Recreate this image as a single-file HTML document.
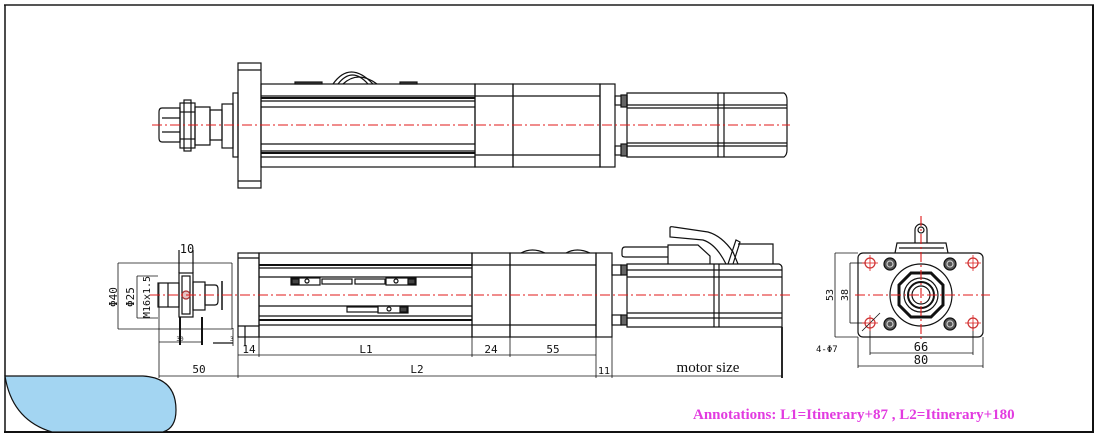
<!DOCTYPE html>
<html><head><meta charset="utf-8"><style>
html,body{margin:0;padding:0;background:#fff;}
svg{display:block;}
text{font-family:"DejaVu Sans Mono","Liberation Mono",monospace;fill:#111;}
</style></head><body>
<svg width="1100" height="437" viewBox="0 0 1100 437" xmlns="http://www.w3.org/2000/svg">
<g fill="none" stroke="#111" stroke-width="1.2">
<!-- frame -->
<line x1="4" y1="5" x2="1094" y2="5" stroke="#555" stroke-width="2"/>
<line x1="1093" y1="5" x2="1093" y2="433" stroke-width="2"/>
<line x1="4" y1="432" x2="1094" y2="432" stroke-width="2"/>
<line x1="5" y1="5" x2="5" y2="433" stroke-width="1.5"/>
<path d="M5,376 L143,376 Q176,378 176,410 Q176,428 163,432 L52,432 Q12,420 5,376 Z" fill="#a3d5f2" stroke="#111" stroke-width="1.2"/>

<!-- ===== TOP VIEW ===== -->
<rect x="238" y="63" width="23" height="125"/>
<line x1="238" y1="70" x2="261" y2="70"/><line x1="238" y1="181" x2="261" y2="181"/>
<rect x="233" y="93" width="5" height="64"/>
<rect x="261" y="84" width="214" height="83"/>
<line x1="261" y1="96" x2="475" y2="96"/><line x1="261" y1="98" x2="475" y2="98" stroke-width="2"/>
<line x1="261" y1="101" x2="475" y2="101"/><line x1="261" y1="107" x2="475" y2="107"/>
<line x1="261" y1="144" x2="475" y2="144"/><line x1="261" y1="151" x2="475" y2="151"/>
<line x1="261" y1="153" x2="475" y2="153" stroke-width="2"/><line x1="261" y1="157" x2="475" y2="157"/>
<rect x="475" y="84" width="38" height="83"/>
<rect x="513" y="84" width="87" height="83"/>
<line x1="475" y1="96" x2="600" y2="96"/><line x1="475" y1="155" x2="600" y2="155"/>
<rect x="600" y="84" width="15" height="83"/>
<rect x="615" y="96" width="12" height="9"/><rect x="615" y="146" width="12" height="9"/>
<rect x="621" y="95" width="6" height="12" fill="#666"/><rect x="621" y="144" width="6" height="12" fill="#666"/>
<path d="M627,93 L784,93 Q787,95 787,100 L787,150 Q787,155 784,157 L627,157 Z"/>
<line x1="627" y1="105" x2="787" y2="105"/><line x1="627" y1="108" x2="787" y2="108"/>
<line x1="627" y1="143" x2="787" y2="143"/><line x1="627" y1="146" x2="787" y2="146"/>
<line x1="718" y1="93" x2="718" y2="157"/><line x1="724" y1="93" x2="724" y2="157"/>
<path d="M333,84 Q350,60 373,84"/><path d="M338,84 Q352,66 368,84"/><path d="M343,84 Q358,70 377,84"/>
<rect x="295" y="82" width="27" height="2" fill="#444"/><rect x="400" y="82" width="17" height="2" fill="#444"/>
<!-- rod end top -->
<rect x="222" y="104" width="11" height="44"/>
<path d="M210,110 L222,110 L222,140 L210,140 Z"/>
<path d="M195,107 L210,107 L210,145 L195,145 Z"/>
<rect x="180" y="103" width="15" height="45"/>
<line x1="180" y1="112" x2="195" y2="112"/><line x1="180" y1="139" x2="195" y2="139"/>
<rect x="184" y="100" width="7" height="51"/>
<path d="M162,108 L180,108 L180,142 L162,142 Q159,142 159,138 L159,112 Q159,108 162,108 Z"/>
<line x1="162" y1="118" x2="180" y2="118"/><line x1="162" y1="132" x2="180" y2="132"/>

<!-- ===== SIDE VIEW ===== -->
<rect x="238" y="253" width="21" height="84"/>
<line x1="238" y1="258" x2="259" y2="258"/><line x1="238" y1="326" x2="259" y2="326"/>
<rect x="259" y="253" width="213" height="84"/>
<line x1="259" y1="265" x2="472" y2="265" stroke-width="2"/><line x1="259" y1="268" x2="472" y2="268"/>
<line x1="259" y1="277" x2="472" y2="277"/><line x1="259" y1="306" x2="472" y2="306"/>
<line x1="259" y1="316" x2="472" y2="316"/><line x1="259" y1="320" x2="472" y2="320" stroke-width="2"/>
<line x1="259" y1="325" x2="472" y2="325"/>
<rect x="291" y="278" width="29" height="7"/><rect x="292" y="279" width="7" height="5" fill="#444"/>
<rect x="322" y="279" width="30" height="5"/><rect x="355" y="279" width="30" height="5"/>
<rect x="386" y="278" width="30" height="7"/><rect x="408" y="279" width="7" height="5" fill="#444"/>
<circle cx="307" cy="281" r="2"/><circle cx="396" cy="281" r="2"/>
<rect x="347" y="307" width="31" height="5"/>
<rect x="378" y="306" width="30" height="7"/><rect x="400" y="307" width="7" height="5" fill="#444"/>
<circle cx="389" cy="309" r="2"/>
<rect x="472" y="253" width="38" height="84"/>
<rect x="510" y="253" width="86" height="84"/>
<line x1="472" y1="265" x2="596" y2="265"/><line x1="472" y1="325" x2="596" y2="325"/>
<path d="M521,253 Q532,247 545,253"/><path d="M566,253 Q577,247 590,253"/>
<rect x="596" y="253" width="16" height="84"/>
<rect x="612" y="265" width="9" height="10"/><rect x="612" y="315" width="9" height="10"/>
<rect x="621" y="265" width="6" height="10" fill="#666"/><rect x="621" y="315" width="6" height="10" fill="#666"/>
<path d="M627,264 L779,264 Q782,265 782,268 L782,327 L627,327 Z"/>
<line x1="627" y1="270" x2="782" y2="270"/><line x1="627" y1="277" x2="782" y2="277"/>
<line x1="627" y1="313" x2="782" y2="313"/><line x1="627" y1="318" x2="782" y2="318"/>
<line x1="714" y1="264" x2="714" y2="327"/><line x1="719" y1="264" x2="719" y2="327"/>
<path d="M668,264 L668,245 L698,245 L710,256 L710,264"/>
<path d="M668,247 L625,247 Q622,247 622,251 L622,255 Q622,257 625,257 L668,257"/>
<path d="M670,228 Q670,226 674,227 L708,232 Q722,236 733,252 L738,264"/>
<path d="M670,228 L670,237 L703,240 Q716,244 726,264"/>
<path d="M728,264 L736,240 L740,242 L733,264"/>
<path d="M738,244 L773,244 L773,264"/>
<rect x="158" y="283" width="21" height="24"/>
<line x1="168" y1="283" x2="168" y2="307"/>
<rect x="179" y="273" width="14" height="44"/>
<rect x="182" y="276" width="8" height="38"/>
<rect x="193" y="282" width="12" height="28"/>
<path d="M205,285 L215,285 Q218,285 218,289 L218,301 Q218,305 215,305 L205,305 Z"/>
<line x1="222" y1="281" x2="222" y2="310" stroke-width="1.5"/>
<circle cx="186" cy="295" r="4" stroke="#a33" fill="#a33" fill-opacity="0.3"/>
<line x1="118" y1="263" x2="232" y2="263" stroke-width="0.8"/>
<line x1="118" y1="329" x2="232" y2="329" stroke-width="0.8"/>
<line x1="118" y1="263" x2="118" y2="329" stroke-width="0.8"/>
<line x1="137" y1="276" x2="158" y2="276" stroke-width="0.8"/><line x1="137" y1="318" x2="158" y2="318" stroke-width="0.8"/>
<line x1="137" y1="276" x2="137" y2="318" stroke-width="0.8"/>
<line x1="232" y1="263" x2="232" y2="329" stroke-width="0.8"/>
<line x1="179" y1="250" x2="179" y2="273"/><line x1="193" y1="250" x2="193" y2="273"/>
<line x1="159" y1="283" x2="159" y2="378" stroke-width="0.8"/>
<line x1="180" y1="317" x2="180" y2="345" stroke-width="2"/>
<line x1="202" y1="317" x2="202" y2="345" stroke-width="2"/>
<line x1="159" y1="342" x2="202" y2="342" stroke-width="0.8"/>
<line x1="213" y1="343" x2="233" y2="343" stroke-width="1.3"/>
<line x1="233" y1="328" x2="233" y2="346" stroke-width="0.8"/><line x1="245" y1="326" x2="245" y2="346" stroke-width="1.2"/>
<g stroke-width="0.8">
<line x1="238" y1="337" x2="238" y2="378"/><line x1="259" y1="337" x2="259" y2="357"/>
<line x1="472" y1="337" x2="472" y2="357"/><line x1="510" y1="337" x2="510" y2="357"/>
<line x1="596" y1="337" x2="596" y2="378"/><line x1="612" y1="337" x2="612" y2="378"/>
<line x1="238" y1="355" x2="596" y2="355"/>
<line x1="159" y1="376" x2="782" y2="376"/>
</g>
<line x1="782" y1="327" x2="782" y2="378" stroke-width="1.8"/>

<!-- ===== END VIEW ===== -->
<rect x="858" y="253" width="125" height="84" rx="5"/>
<path d="M895,253 L897,243 L946,243 L948,253"/>
<line x1="899" y1="248" x2="944" y2="248"/>
<path d="M915,243 L915,230 A6,6 0 0 1 927,230 L927,243"/>
<circle cx="921" cy="230" r="3"/>
<g fill="#555"><circle cx="890" cy="264" r="6"/><circle cx="950" cy="264" r="6"/><circle cx="890" cy="324" r="6"/><circle cx="950" cy="324" r="6"/></g>
<g stroke="#ccc" fill="none"><circle cx="890" cy="264" r="3"/><circle cx="950" cy="264" r="3"/><circle cx="890" cy="324" r="3"/><circle cx="950" cy="324" r="3"/></g>
<g stroke="#c33"><circle cx="870" cy="263" r="5"/><circle cx="973" cy="263" r="5"/><circle cx="870" cy="323" r="5"/><circle cx="973" cy="323" r="5"/></g>
<circle cx="921" cy="295" r="31"/>
<polygon points="911,273 931,273 943,285 943,305 931,317 911,317 899,305 899,285" stroke-width="3"/>
<circle cx="921" cy="295" r="17"/><circle cx="921" cy="295" r="13" stroke-width="2"/><circle cx="921" cy="295" r="9"/>
<g stroke-width="0.8">
<line x1="835" y1="253" x2="858" y2="253"/><line x1="835" y1="337" x2="858" y2="337"/>
<line x1="835" y1="253" x2="835" y2="337"/>
<line x1="850" y1="263" x2="866" y2="263"/><line x1="850" y1="323" x2="866" y2="323"/>
<line x1="850" y1="263" x2="850" y2="323"/>
<line x1="870" y1="323" x2="870" y2="355"/><line x1="973" y1="323" x2="973" y2="355"/>
<line x1="870" y1="353" x2="973" y2="353"/>
<line x1="858" y1="337" x2="858" y2="368"/><line x1="983" y1="337" x2="983" y2="368"/>
<line x1="858" y1="366" x2="983" y2="366"/>
<line x1="862" y1="331" x2="880" y2="313"/>
</g>
</g>

<g stroke="#e01818" stroke-width="1.1" stroke-dasharray="10,3,2,3" fill="none">
<line x1="152" y1="125" x2="790" y2="125"/>
<line x1="150" y1="295" x2="790" y2="295"/>
<line x1="855" y1="295" x2="990" y2="295"/>
<line x1="921" y1="216" x2="921" y2="342"/>
</g>
<g stroke="#e02020" stroke-width="0.8">
<line x1="862" y1="263" x2="878" y2="263"/><line x1="870" y1="255" x2="870" y2="271"/>
<line x1="965" y1="263" x2="981" y2="263"/><line x1="973" y1="255" x2="973" y2="271"/>
<line x1="862" y1="323" x2="878" y2="323"/><line x1="870" y1="315" x2="870" y2="331"/>
<line x1="965" y1="323" x2="981" y2="323"/><line x1="973" y1="315" x2="973" y2="331"/>
</g>

<text x="187" y="253" font-size="12" text-anchor="middle">10</text>
<text transform="translate(117,297) rotate(-90)" font-size="11" text-anchor="middle">Φ40</text>
<text transform="translate(134,297) rotate(-90)" font-size="11" text-anchor="middle">Φ25</text>
<text transform="translate(150,297) rotate(-90)" font-size="10" text-anchor="middle">M16x1.5</text>
<text x="180" y="341" font-size="6" text-anchor="middle">30</text>
<text x="230" y="341" font-size="6">3</text>
<text x="249" y="353" font-size="11" text-anchor="middle">14</text>
<text x="366" y="353" font-size="11" text-anchor="middle">L1</text>
<text x="491" y="353" font-size="11" text-anchor="middle">24</text>
<text x="553" y="353" font-size="11" text-anchor="middle">55</text>
<text x="199" y="373" font-size="11" text-anchor="middle">50</text>
<text x="417" y="373" font-size="11" text-anchor="middle">L2</text>
<text x="604" y="374" font-size="10" text-anchor="middle">11</text>
<text x="708" y="372" font-size="15" text-anchor="middle" style="font-family:'Liberation Serif',serif">motor size</text>
<text transform="translate(833,295) rotate(-90)" font-size="10" text-anchor="middle">53</text>
<text transform="translate(848,295) rotate(-90)" font-size="10" text-anchor="middle">38</text>
<text x="816" y="352" font-size="9">4-Φ7</text>
<text x="921" y="351" font-size="12" text-anchor="middle">66</text>
<text x="921" y="364" font-size="12" text-anchor="middle">80</text>
<text x="693" y="419" font-size="15" style="font-family:'Liberation Serif',serif;fill:#e23be0;font-weight:bold">Annotations:  L1=Itinerary+87 , L2=Itinerary+180</text>
</svg>
</body></html>
